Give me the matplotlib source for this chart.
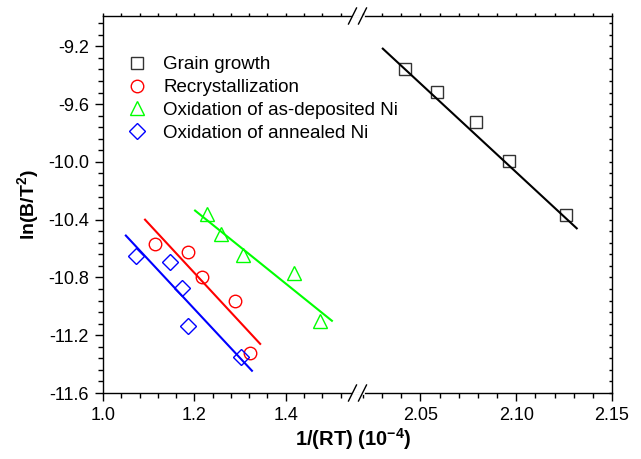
import matplotlib
matplotlib.use("Agg")
import matplotlib.pyplot as plt
from matplotlib.lines import Line2D
from matplotlib.ticker import MultipleLocator

plt.rcParams["font.family"] = ["Liberation Sans", "DejaVu Sans"]
plt.rcParams["mathtext.default"] = "regular"

# data (x in 1e-4, y = ln(B/T^2))
grain_x = [2.0422, 2.0587, 2.0792, 2.0964, 2.1260]
grain_y = [-9.355, -9.517, -9.725, -9.995, -10.371]
grain_fit_x = [2.0304, 2.1316]
grain_fit_y = [-9.216, -10.460]

recr_x = [1.114, 1.186, 1.216, 1.289, 1.321]
recr_y = [-10.568, -10.626, -10.794, -10.966, -11.321]
recr_fit_x = [1.092, 1.344]
recr_fit_y = [-10.400, -11.260]

oxdep_x = [1.227, 1.258, 1.307, 1.417, 1.474]
oxdep_y = [-10.360, -10.498, -10.642, -10.768, -11.100]
oxdep_fit_x = [1.2015, 1.501]
oxdep_fit_y = [-10.337, -11.100]

oxann_x = [1.072, 1.147, 1.173, 1.187, 1.302]
oxann_y = [-10.649, -10.695, -10.876, -11.139, -11.354]
oxann_fit_x = [1.050, 1.326]
oxann_fit_y = [-10.510, -11.446]

labels = ["Grain growth", "Recrystallization",
          "Oxidation of as-deposited Ni", "Oxidation of annealed Ni"]

W, H = 641, 459
fig = plt.figure(figsize=(W / 100, H / 100), dpi=100)
x0, x1, y0, y1 = 103, 612, 16, 393
xm = (x0 + x1) / 2
axl = fig.add_axes([x0 / W, 1 - y1 / H, (xm - x0) / W, (y1 - y0) / H])
axr = fig.add_axes([xm / W, 1 - y1 / H, (x1 - xm) / W, (y1 - y0) / H], sharey=axl)
axr.set_facecolor("none")

ms = 8
mk = dict(linestyle="none", markerfacecolor="none", markeredgewidth=1.0)
h1, = axr.plot(grain_x, grain_y, marker="s", markersize=ms, markeredgecolor="#333333", **mk)
axr.plot(grain_fit_x, grain_fit_y, color="black", lw=1.5)

h2, = axl.plot(recr_x, recr_y, marker="o", markersize=ms + 1, markeredgecolor="#ff0000", **mk)
axl.plot(recr_fit_x, recr_fit_y, color="#ff0000", lw=1.5)
h3, = axl.plot(oxdep_x, oxdep_y, marker="^", markersize=ms + 2, markeredgecolor="#00ff00", **mk)
axl.plot(oxdep_fit_x, oxdep_fit_y, color="#00ff00", lw=1.5)
h4, = axl.plot(oxann_x, oxann_y, marker="D", markersize=ms, markeredgecolor="#0000ff", **mk)
axl.plot(oxann_fit_x, oxann_fit_y, color="#0000ff", lw=1.5)

axl.set_xlim(1.0, 1.557)
axr.set_xlim(2.0172, 2.15)
axl.set_ylim(-11.6, -8.99)

axl.xaxis.set_major_locator(MultipleLocator(0.2))
axl.xaxis.set_minor_locator(MultipleLocator(0.04))
axr.xaxis.set_major_locator(MultipleLocator(0.05))
axr.xaxis.set_minor_locator(MultipleLocator(0.01))
axl.yaxis.set_major_locator(MultipleLocator(0.4))
axl.yaxis.set_minor_locator(MultipleLocator(0.08))
axl.xaxis.set_major_formatter(plt.FormatStrFormatter("%.1f"))
axr.xaxis.set_major_formatter(plt.FormatStrFormatter("%.2f"))
axl.yaxis.set_major_formatter(plt.FormatStrFormatter("%.1f"))

for ax in (axl, axr):
    for s in ax.spines.values():
        s.set_linewidth(1.0)
    ax.tick_params(which="major", direction="out", length=6, width=1.0,
                   labelsize=13, pad=4)
    ax.tick_params(which="minor", direction="out", length=3.5, width=1.0)
    ax.tick_params(axis="x", which="both", top=True)
axl.spines["right"].set_visible(False)
axr.spines["left"].set_visible(False)
axl.tick_params(axis="y", which="both", right=False)
axr.tick_params(axis="y", which="both", left=False, labelleft=False, right=True)

# small ticks on top and right edges
for t in axl.xaxis.get_major_ticks() + axl.xaxis.get_minor_ticks() + \
        axr.xaxis.get_major_ticks() + axr.xaxis.get_minor_ticks():
    t.tick2line.set_markersize(2.5)
    t.tick2line.set_marker(2)
for t in axr.yaxis.get_major_ticks() + axr.yaxis.get_minor_ticks():
    t.tick2line.set_markersize(2.5)
    t.tick2line.set_marker(0)

axl.set_ylabel("ln(B/T$^{2}$)", fontsize=14, fontweight="bold")
axl.yaxis.set_label_coords((41 - x0) / (xm - x0), 0.5)
fig.text(353 / W, 1 - 439 / H, "1/(RT) (10$^{-4}$)", fontsize=14.5,
         fontweight="bold", ha="center", va="center")

# axis break marks
for cy in (y0, y1):
    fig.add_artist(Line2D([(xm - 5) / W, (xm + 5) / W], [1 - cy / H] * 2,
                          color="white", lw=2, transform=fig.transFigure))
    for dx in (-5, 5):
        fig.add_artist(Line2D([(xm + dx - 4) / W, (xm + dx + 4) / W],
                              [1 - (cy + 8) / H, 1 - (cy - 8) / H],
                              color="black", lw=1.0, transform=fig.transFigure))

fig.legend([h1, h2, h3, h4], labels, loc="upper left",
           bbox_to_anchor=(127.6 / W, 1 - 56 / H), frameon=False,
           fontsize=13.5, borderpad=0, borderaxespad=0, handlelength=1.0,
           handletextpad=0.9, labelspacing=0.31)

fig.savefig("out.png", dpi=100)
